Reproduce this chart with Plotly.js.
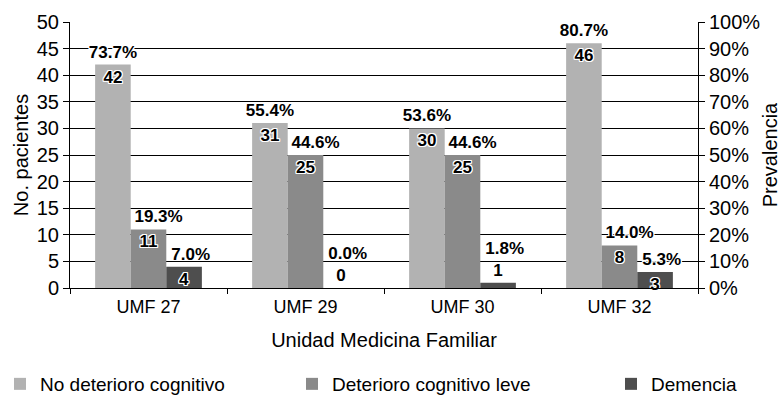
<!DOCTYPE html>
<html>
<head>
<meta charset="utf-8">
<script src="https://cdn.plot.ly/plotly-3.0.1.min.js"></script>
<style>html,body{margin:0;padding:0;background:#fff;}#chart{width:784px;height:403px;}</style>
</head>
<body>
<div id="chart"></div>
<script>
var categories = ['UMF 27', 'UMF 29', 'UMF 30', 'UMF 32'];
var seriesNames = ['No deterioro cognitivo', 'Deterioro cognitivo leve', 'Demencia'];
var noDeterioro = [42, 31, 30, 46];
var deterioroLeve = [11, 25, 25, 8];
var demencia = [4, 0, 1, 3];
var pctNoDeterioro = ['73.7%', '55.4%', '53.6%', '80.7%'];
var pctDeterioroLeve = ['19.3%', '44.6%', '44.6%', '14.0%'];
var pctDemencia = ['7.0%', '0.0%', '1.8%', '5.3%'];
var leftTicks = [0, 5, 10, 15, 20, 25, 30, 35, 40, 45, 50];
var rightTicks = [0, 10, 20, 30, 40, 50, 60, 70, 80, 90, 100];
var rightTickLabels = ['0%', '10%', '20%', '30%', '40%', '50%', '60%', '70%', '80%', '90%', '100%'];

var counts = [noDeterioro, deterioroLeve, demencia];
var pcts = [pctNoDeterioro, pctDeterioroLeve, pctDemencia];
var colors = ['#b2b2b2', '#8a8a8a', '#4e4e4e'];
var legendIds = ['legend', 'legend2', 'legend3'];

var halo = '-1px -1px 0 #fff, 1px -1px 0 #fff, -1px 1px 0 #fff, 1px 1px 0 #fff, 0 1px 0 #fff, 0 -1px 0 #fff, 1px 0 0 #fff, -1px 0 0 #fff';
var FONT = 'Liberation Sans, Arial, sans-serif';
var labelFont = {family: FONT, size: 17, color: '#000', weight: 'bold', shadow: halo};

var BARGAP = 0.32;
var BW = (1 - BARGAP) / 3;
var labelShift = [0, 0.064, 0.042]; // label nudge (category units), as in the original

var traces = [];
for (var s = 0; s < 3; s++) {
  var small = counts[s].map(function (v) { return v < 3; });
  traces.push({
    type: 'bar', name: seriesNames[s], x: categories, y: counts[s],
    marker: {color: colors[s], line: {width: 0}},
    text: counts[s].map(String),
    textposition: small.map(function (b) { return b ? 'outside' : 'inside'; }),
    insidetextanchor: 'end',
    textfont: labelFont, insidetextfont: labelFont, outsidetextfont: labelFont, constraintext: 'none',
    textangle: 0, cliponaxis: false, hoverinfo: 'skip',
    legend: legendIds[s], xaxis: 'x', yaxis: 'y'
  });
}
for (var s2 = 0; s2 < 3; s2++) {
  (function (s) {
    var txt = counts[s].map(function (v, i) {
      return v >= 3 ? pcts[s][i] : pcts[s][i] + '<br>\u00a0';
    });
    traces.push({
      type: 'bar', name: seriesNames[s] + ' %', x: categories, y: counts[s],
      width: BW, offset: -1.5 * BW + s * BW + labelShift[s],
      marker: {color: 'rgba(0,0,0,0)', line: {width: 0}},
      text: txt, textposition: 'outside', textfont: labelFont, outsidetextfont: labelFont,
      constraintext: 'none', textangle: 0, cliponaxis: false, showlegend: false, hoverinfo: 'skip',
      xaxis: 'x', yaxis: 'y3'
    });
  })(s2);
}
traces.push({type: 'scatter', mode: 'markers', x: [categories[0]], y: [0], yaxis: 'y2',
  marker: {opacity: 0}, showlegend: false, hoverinfo: 'skip'});

function legendAt(xPx) {
  return {
    orientation: 'h', xref: 'container', yref: 'container', x: xPx / 784, y: 19 / 403,
    xanchor: 'left', yanchor: 'middle', font: {family: FONT, size: 19},
    bgcolor: 'rgba(0,0,0,0)', borderwidth: 0
  };
}

var layout = {
  width: 784, height: 403,
  margin: {l: 70, r: 86, t: 22, b: 115},
  paper_bgcolor: '#fff', plot_bgcolor: '#fff',
  font: {family: FONT, color: '#000'},
  barmode: 'group', bargap: BARGAP, bargroupgap: 0,
  showlegend: true,
  xaxis: {
    type: 'category', showline: true, linecolor: '#000', linewidth: 1,
    ticks: 'outside', tickson: 'boundaries', ticklen: 5, tickcolor: '#000',
    ticklabelstandoff: 2,
    tickfont: {family: FONT, size: 18}, showgrid: false, zeroline: false,
    title: {text: 'Unidad Medicina Familiar', font: {family: FONT, size: 20}, standoff: 17}
  },
  yaxis: {
    range: [0, 50], tickvals: leftTicks, showline: true, linecolor: '#000', linewidth: 1,
    ticks: 'outside', ticklen: 6, tickcolor: '#000',
    tickfont: {family: FONT, size: 20}, showgrid: true, gridcolor: '#000', gridwidth: 1,
    zeroline: false,
    title: {text: 'No. pacientes', font: {family: FONT, size: 20}, standoff: 2}
  },
  yaxis2: {
    range: [0, 100], tickvals: rightTicks, ticktext: rightTickLabels, overlaying: 'y', side: 'right',
    showline: true, linecolor: '#000', linewidth: 1, ticks: 'outside', ticklen: 6, tickcolor: '#000',
    tickfont: {family: FONT, size: 20}, showgrid: false, zeroline: false,
    title: {text: 'Prevalencia', font: {family: FONT, size: 20}, standoff: 3}
  },
  yaxis3: {range: [0, 50], overlaying: 'y', visible: false, showgrid: false, zeroline: false},
  legend: legendAt(0),
  legend2: legendAt(292),
  legend3: legendAt(611)
};

Plotly.newPlot('chart', traces, layout, {displayModeBar: false, staticPlot: true});
</script>
</body>
</html>
